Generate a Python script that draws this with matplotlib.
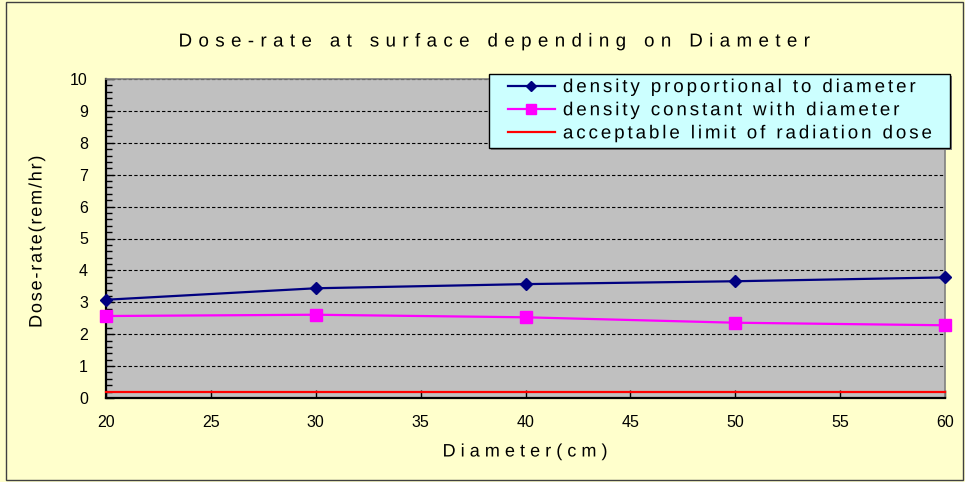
import numpy as np
import matplotlib
matplotlib.use("Agg")
import matplotlib.pyplot as plt
from matplotlib.ticker import MultipleLocator
from matplotlib.patches import Rectangle
from matplotlib.patheffects import AbstractPathEffect
from matplotlib.textpath import text_to_path
from matplotlib.font_manager import FontProperties, findfont, get_font
from matplotlib.ft2font import LoadFlags
from matplotlib.path import Path

plt.rcParams['font.family'] = ['Liberation Sans', 'DejaVu Sans']

# Data
diameter = [20, 30, 40, 50, 60]
dose_proportional = [3.08, 3.44, 3.57, 3.66, 3.78]
dose_constant = [2.57, 2.61, 2.53, 2.36, 2.28]
dose_limit = [0.2, 0.2, 0.2, 0.2, 0.2]

series_labels = [
    "density proportional to diameter",
    "density constant with diameter",
    "acceptable limit of radiation dose",
]
title_text = "Dose-rate at surface depending on Diameter"
x_label = "Diameter(cm)"
y_label = "Dose-rate(rem/hr)"


class Tracking(AbstractPathEffect):
    """Redraw a text string with extra space between its characters."""

    def __init__(self, text, spacing_em, align="left"):
        super().__init__()
        self.text = text
        self.spacing = spacing_em * text_to_path.FONT_SCALE
        self.align = align
        self.prop = FontProperties(family=plt.rcParams['font.family'])

    def draw_path(self, renderer, gc, tpath, affine, rgbFace=None):
        font = get_font(findfont(self.prop))
        font.set_size(text_to_path.FONT_SCALE, text_to_path.DPI)
        n = len(self.text)
        extra = self.spacing * (n - 1)
        shift = {"left": 0.0, "center": -0.5 * extra, "right": -extra}[self.align]
        verts, codes = [], []
        pen = 0.0
        for i, ch in enumerate(self.text):
            if ch != " ":
                v, c = text_to_path.get_text_path(self.prop, ch)
                if len(v):
                    v = np.asarray(v, float) + [pen + i * self.spacing + shift, 0.0]
                    verts.append(v)
                    codes.append(np.asarray(c))
            g = font.load_char(ord(ch), flags=LoadFlags.NO_HINTING)
            pen += g.linearHoriAdvance / 65536.0
        path = Path(np.concatenate(verts), np.concatenate(codes))
        renderer.draw_path(gc, path, affine, rgbFace)


W, H = 965, 482
fig = plt.figure(figsize=(W / 100, H / 100), dpi=100)
fig.patch.set_facecolor("#FFFFCC")


def fx(px):
    return px / W


def fy(py):
    return 1 - py / H


# outer chart border
fig.patches.append(Rectangle((fx(6), fy(480)), fx(963) - fx(6), fy(2) - fy(480),
                             transform=fig.transFigure, fill=False,
                             edgecolor="#404040", linewidth=1.0))

ax = fig.add_axes([fx(106), fy(398), fx(945) - fx(106), fy(79) - fy(398)])
ax.set_facecolor("#C0C0C0")

ax.plot(diameter, dose_proportional, color="#000080", linewidth=1.6,
        marker="D", markersize=6.5, label=series_labels[0], clip_on=False, zorder=4)
ax.plot(diameter, dose_constant, color="#FF00FF", linewidth=1.6,
        marker="s", markersize=8, label=series_labels[1], clip_on=False, zorder=4)
ax.plot(diameter, dose_limit, color="#FF0000", linewidth=1.6,
        label=series_labels[2], clip_on=False, zorder=3)

ax.set_xlim(20, 60)
ax.set_ylim(0, 10)
ax.xaxis.set_major_locator(MultipleLocator(5))
ax.yaxis.set_major_locator(MultipleLocator(1))
ax.yaxis.set_minor_locator(MultipleLocator(0.2))

ax.grid(axis="y", which="major", color="black", linestyle=(0, (3, 2)),
        linewidth=0.8)
ax.set_axisbelow(True)

ax.tick_params(axis="both", which="major", direction="in", length=6,
               width=1.0, color="black", labelsize=11.5, labelcolor="black")
ax.tick_params(axis="y", which="major", pad=13)
ax.tick_params(axis="x", which="major", pad=12)
ax.tick_params(axis="y", which="minor", direction="in", length=4, width=1.0,
               color="black")

for side in ("left", "bottom"):
    ax.spines[side].set_color("black")
    ax.spines[side].set_linewidth(1.6)
for side in ("top", "right"):
    ax.spines[side].set_color("#808080")
    ax.spines[side].set_linewidth(1.2)

fig.text(fx(494), fy(42), title_text, ha="center", va="center",
         fontsize=13.5, color="black",
         path_effects=[Tracking(title_text, 0.34, "center")])
fig.text(fx(525), fy(452), x_label, ha="center", va="center",
         fontsize=13, color="black",
         path_effects=[Tracking(x_label, 0.28, "center")])
fig.text(fx(37), fy(242), y_label, ha="center", va="center",
         rotation=90, fontsize=13, color="black",
         path_effects=[Tracking(y_label, 0.1, "center")])

# legend box drawn separately so its size stays fixed
ax.add_patch(Rectangle((fx(491), fy(150)), fx(952) - fx(491), fy(76) - fy(150),
                       transform=fig.transFigure, facecolor="#808080",
                       edgecolor="none", zorder=5, clip_on=False))
ax.add_patch(Rectangle((fx(489), fy(148)), fx(950) - fx(489), fy(74) - fy(148),
                       transform=fig.transFigure, facecolor="#CCFFFF",
                       edgecolor="black", linewidth=1.0, zorder=6, clip_on=False))

leg = ax.legend(loc="upper left", bbox_to_anchor=(fx(508), fy(79)),
                bbox_transform=fig.transFigure, borderaxespad=0, borderpad=0,
                fontsize=13.5, frameon=False,
                handlelength=2.5, handletextpad=0.43, labelspacing=0.32,
                markerscale=0.85)
leg.set_zorder(7)
for t in leg.get_texts():
    t.set_path_effects([Tracking(t.get_text(), 0.155, "left")])

fig.savefig("out.png", dpi=100, facecolor=fig.get_facecolor())
